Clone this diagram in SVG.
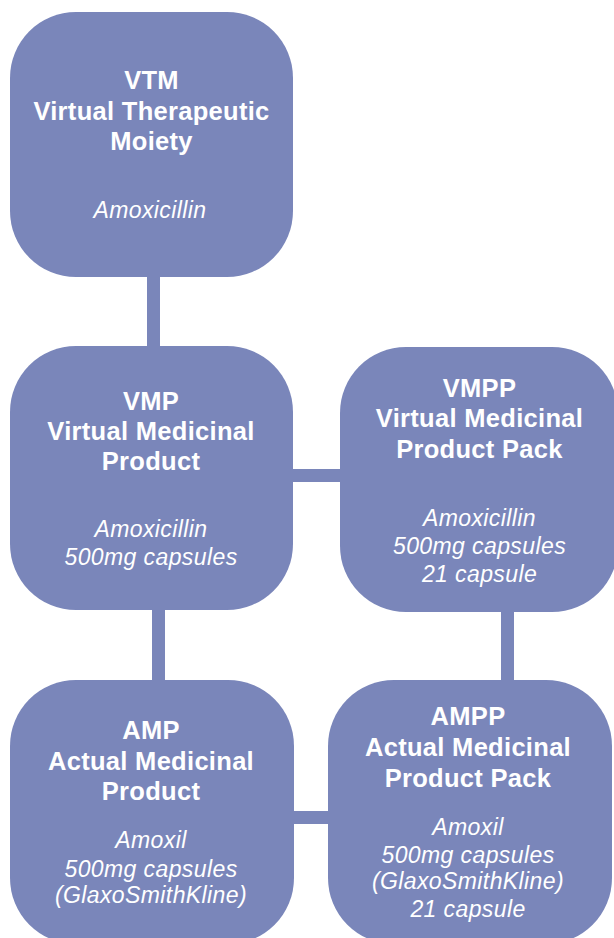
<svg xmlns="http://www.w3.org/2000/svg" width="614" height="938" viewBox="0 0 614 938">
<style>
.box{fill:#7a86ba}
.bar{fill:#7a86ba}
.t{fill:#ffffff;font-family:"Liberation Sans",Arial,sans-serif;text-anchor:middle}
.b{font-weight:bold;font-size:25.5px;letter-spacing:0.3px}
.i{font-style:italic;font-size:23px;letter-spacing:0.4px}
</style>
<rect width="614" height="938" fill="#ffffff"/>
<g id="connectors">
<rect class="bar" x="147" y="270" width="13" height="84"/>
<rect class="bar" x="152" y="600" width="13" height="88"/>
<rect class="bar" x="285" y="469" width="62" height="13"/>
<rect class="bar" x="501" y="600" width="13" height="88"/>
<rect class="bar" x="285" y="811" width="50" height="13"/>
</g>
<g id="vtm">
<rect class="box" x="10" y="12" width="283" height="265" rx="66" ry="66"/>
<text class="t b" x="151.5" y="89">VTM</text>
<text class="t b" x="151.5" y="119.5">Virtual Therapeutic</text>
<text class="t b" x="151.5" y="150">Moiety</text>
<text class="t i" x="150" y="218">Amoxicillin</text>
</g>
<g id="vmp">
<rect class="box" x="10" y="346" width="283" height="264" rx="66" ry="66"/>
<text class="t b" x="151" y="410">VMP</text>
<text class="t b" x="151" y="440">Virtual Medicinal</text>
<text class="t b" x="151" y="470">Product</text>
<text class="t i" x="151" y="537">Amoxicillin</text>
<text class="t i" x="151" y="565">500mg capsules</text>
</g>
<g id="vmpp">
<rect class="box" x="340" y="347" width="278" height="265" rx="66" ry="66"/>
<text class="t b" x="479.5" y="397">VMPP</text>
<text class="t b" x="479.5" y="427">Virtual Medicinal</text>
<text class="t b" x="479.5" y="458">Product Pack</text>
<text class="t i" x="479.5" y="526">Amoxicillin</text>
<text class="t i" x="479.5" y="554">500mg capsules</text>
<text class="t i" x="479.5" y="582">21 capsule</text>
</g>
<g id="amp">
<rect class="box" x="10" y="680" width="284" height="264" rx="66" ry="66"/>
<text class="t b" x="151" y="739">AMP</text>
<text class="t b" x="151" y="770">Actual Medicinal</text>
<text class="t b" x="151" y="800">Product</text>
<text class="t i" x="151" y="848">Amoxil</text>
<text class="t i" x="151" y="877">500mg capsules</text>
<text class="t i" x="151" y="903">(GlaxoSmithKline)</text>
</g>
<g id="ampp">
<rect class="box" x="328" y="680" width="284" height="264" rx="66" ry="66"/>
<text class="t b" x="468" y="725">AMPP</text>
<text class="t b" x="468" y="756">Actual Medicinal</text>
<text class="t b" x="468" y="787">Product Pack</text>
<text class="t i" x="468" y="835">Amoxil</text>
<text class="t i" x="468" y="863">500mg capsules</text>
<text class="t i" x="468" y="889">(GlaxoSmithKline)</text>
<text class="t i" x="468" y="917">21 capsule</text>
</g>
</svg>
